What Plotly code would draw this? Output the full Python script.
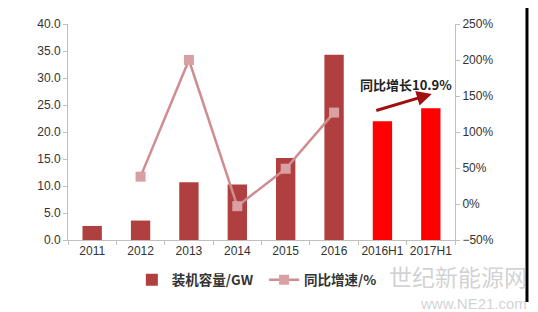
import plotly.graph_objects as go

categories = ["2011", "2012", "2013", "2014", "2015", "2016", "2016H1", "2017H1"]
capacity_gw = [2.6, 3.6, 10.7, 10.3, 15.2, 34.3, 22.0, 24.4]
growth_cats = ["2012", "2013", "2014", "2015", "2016"]
growth_pct = [38, 200, -3, 49, 127]
bar_colors = ["#B0403F"] * 6 + ["#FF0000"] * 2

fig = go.Figure()
fig.add_trace(go.Bar(
    x=categories, y=capacity_gw, name="<b>装机容量/GW</b>  ",
    marker=dict(color=bar_colors, line=dict(width=0)), width=0.4,
    yaxis="y",
))
fig.add_trace(go.Scatter(
    x=growth_cats, y=growth_pct, name="<b>同比增速/%</b>", mode="lines+markers",
    line=dict(color="#CF8D92", width=2.5),
    marker=dict(symbol="square", size=10, color="#D9A0A4"),
    yaxis="y2",
))

tick_font = dict(size=12, color="#333333", family="Liberation Sans, Arial, sans-serif")
fig.update_layout(
    width=538, height=312,
    margin=dict(l=68, r=83, t=24, b=72, autoexpand=False),
    paper_bgcolor="white", plot_bgcolor="white",
    font=dict(family="Liberation Sans, Arial, sans-serif", size=12, color="#404040"),
    bargap=0.6,
    xaxis=dict(type="category", showline=True, linecolor="#BFBFBF", ticks="outside",
               tickcolor="#BFBFBF", ticklen=4, showgrid=False, tickfont=tick_font,
               tickson="boundaries", tickangle=0),
    yaxis=dict(range=[0, 40], dtick=5, tickformat=".1f", showgrid=False, showline=True,
               linecolor="#BFBFBF", ticks="outside", tickcolor="#BFBFBF", ticklen=4,
               zeroline=False, tickfont=tick_font),
    yaxis2=dict(range=[-50, 250], dtick=50, ticksuffix="%", overlaying="y", side="right",
                showgrid=False, showline=True, linecolor="#BFBFBF", ticks="outside",
                tickcolor="#BFBFBF", ticklen=4, zeroline=False, tickfont=tick_font),
    legend=dict(orientation="h", x=0.165, y=(312 - 280) / 312, yref="container",
                xanchor="left", yanchor="middle",
                font=dict(size=13.5, color="#333333", family="Noto Sans CJK SC, sans-serif"),
                bgcolor="rgba(0,0,0,0)", itemwidth=30),
    showlegend=True,
)

fig.add_annotation(
    x=0.94, y=0.676, xref="paper", yref="paper", ax=-57, ay=17,
    text="", showarrow=True, arrowhead=2, arrowsize=1, arrowwidth=3, arrowcolor="#A01010",
)
fig.add_annotation(
    x=0.998, y=0.718, xref="paper", yref="paper", text="<b>同比增长10.9%</b>", showarrow=False,
    xanchor="right", yanchor="middle",
    font=dict(size=13, color="#222222", family="Noto Sans CJK SC, sans-serif"),
)
fig.add_annotation(
    x=1.19, y=(240 - 276) / 216, xref="paper", yref="paper", text="世纪新能源网", showarrow=False,
    xanchor="right", yanchor="middle",
    font=dict(size=23, color="rgba(165,165,165,0.5)", family="Noto Sans CJK SC, sans-serif"),
)
fig.add_annotation(
    x=1.19, y=(240 - 303) / 216, xref="paper", yref="paper", text="www.NE21.com", showarrow=False,
    xanchor="right", yanchor="middle",
    font=dict(size=15, color="rgba(165,165,165,0.5)", family="Liberation Sans, sans-serif"),
)
fig.add_shape(type="line", xref="paper", yref="paper", x0=1.186, x1=1.186,
              y0=(240 - 8) / 216, y1=(240 - 302) / 216,
              line=dict(color="black", width=3))

fig.write_html("out.html")
